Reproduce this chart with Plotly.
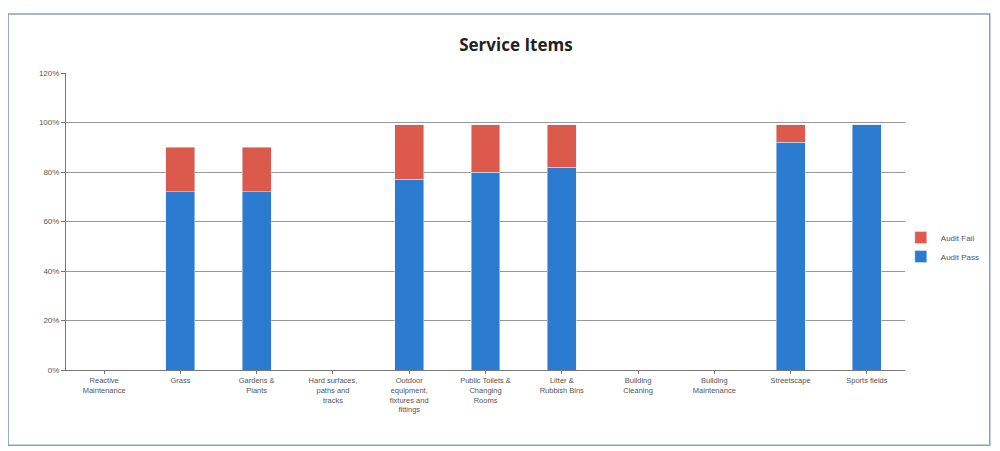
import plotly.graph_objects as go

categories = ["Reactive Maintenance", "Grass", "Gardens & Plants", "Hard surfaces, paths and tracks",
              "Outdoor equipment, fixtures and fittings", "Public Toilets & Changing Rooms",
              "Litter & Rubbish Bins", "Building Cleaning", "Building Maintenance",
              "Streetscape", "Sports fields"]
tick_labels = ["Reactive<br>Maintenance", "Grass", "Gardens &<br>Plants", "Hard surfaces,<br>paths and<br>tracks",
               "Outdoor<br>equipment,<br>fixtures and<br>fittings", "Public Toilets &<br>Changing<br>Rooms",
               "Litter &<br>Rubbish Bins", "Building<br>Cleaning", "Building<br>Maintenance",
               "Streetscape", "Sports fields"]
audit_pass = [0, 72, 72, 0, 77, 80, 82, 0, 0, 92, 99]
audit_fail = [0, 18, 18, 0, 22, 19, 17, 0, 0, 7, 0]

fig = go.Figure()
fig.add_trace(go.Bar(name="Audit Pass", x=categories, y=audit_pass, marker_color="#2b7bd0"))
fig.add_trace(go.Bar(name="Audit Fail", x=categories, y=audit_fail, marker_color="#dc5a4c"))

fig.update_layout(
    width=992, height=443,
    barmode="stack", bargap=0.62,
    paper_bgcolor="white", plot_bgcolor="white",
    margin=dict(l=58, r=95, t=65, b=81),
    font=dict(family="Liberation Sans, Arial, sans-serif", color="#555", size=8),
    title=dict(text="<b>Service Items</b>", x=0.512, xanchor="center", y=0.916, yanchor="middle",
               font=dict(family="Open Sans, Liberation Sans, sans-serif", size=17, color="#222")),
    legend=dict(x=0.995, y=0.414, xanchor="left", yanchor="middle", traceorder="reversed",
                font=dict(size=8, color="#555"), itemwidth=30),
    showlegend=True,
)
fig.update_xaxes(tickvals=categories, ticktext=tick_labels, showline=True, linecolor="#777",
                 linewidth=1, ticks="outside", ticklen=3, tickcolor="#777", tickfont=dict(size=7.5))
fig.update_yaxes(range=[0, 120], dtick=20, ticksuffix="%", showgrid=True, gridcolor="#999",
                 gridwidth=1, showline=True, linecolor="#777", ticks="outside", ticklen=4,
                 tickcolor="#777", zeroline=False, tickfont=dict(size=8))
fig.add_shape(type="rect", xref="paper", yref="paper", x0=-0.069, x1=1.101, y0=-0.253, y1=1.199,
              line=dict(color="#8aa0b5", width=1.5), fillcolor="rgba(0,0,0,0)", layer="below")
fig.write_html("out.html")
